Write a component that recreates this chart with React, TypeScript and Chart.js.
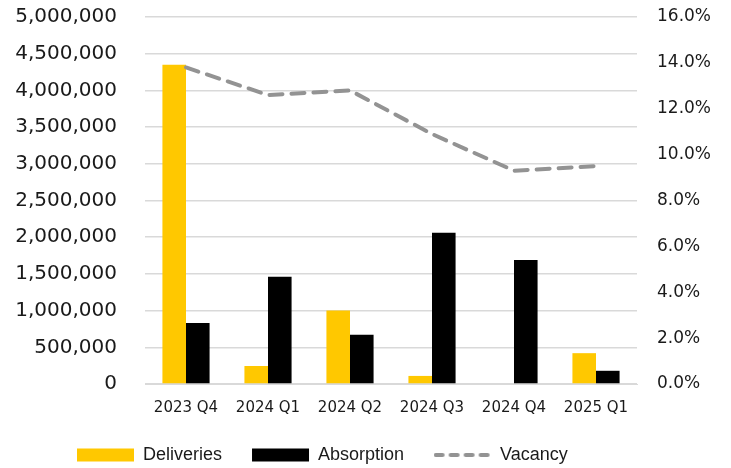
import React, { useEffect, useRef } from "react";
import { Chart, registerables } from "chart.js";

Chart.register(...registerables);

const categories = ["2023 Q4", "2024 Q1", "2024 Q2", "2024 Q3", "2024 Q4", "2025 Q1"];
const deliveries = [4350000, 245000, 1000000, 110000, 0, 420000];
const absorption = [830000, 1460000, 670000, 2060000, 1690000, 180000];
const vacancy = [13.8, 12.6, 12.8, 10.9, 9.3, 9.5];

const leftTicks = { min: 0, max: 5000000, step: 500000 };
const rightTicks = { min: 0, max: 16, step: 2 };

const VAC_COLOR = "#939393";

function makeDashIcon(): HTMLCanvasElement {
  const c = document.createElement("canvas");
  c.width = 58;
  c.height = 8;
  const ctx = c.getContext("2d")!;
  ctx.strokeStyle = VAC_COLOR;
  ctx.lineWidth = 4;
  ctx.lineCap = "round";
  ctx.setLineDash([7, 8]);
  ctx.beginPath();
  ctx.moveTo(2, 4);
  ctx.lineTo(56, 4);
  ctx.stroke();
  return c;
}

const layoutPlugin = {
  id: "layoutTweaks",
  beforeLayout(chart: any) {
    const lg = chart.legend;
    if (lg && !lg.__patched) {
      const fit = lg.fit;
      lg.fit = function () {
        fit.call(this);
        this.height = 52;
      };
      lg.__patched = true;
    }
  },
  afterLayout(chart: any) {
    if (chart.legend) chart.legend.left = 47;
  },
};

export default function App() {
  const ref = useRef<HTMLCanvasElement | null>(null);
  useEffect(() => {
    if (!ref.current) return;
    const dashIcon = makeDashIcon();
    const chart = new Chart(ref.current, {
      type: "bar",
      data: {
        labels: categories,
        datasets: [
          {
            label: "Deliveries",
            data: deliveries,
            backgroundColor: "#FFC800",
            borderWidth: 0,
            yAxisID: "y",
            order: 1,
          },
          {
            label: "Absorption",
            data: absorption,
            backgroundColor: "#000000",
            borderWidth: 0,
            yAxisID: "y",
            order: 1,
          },
          {
            type: "line",
            label: "Vacancy",
            data: vacancy,
            borderColor: VAC_COLOR,
            backgroundColor: VAC_COLOR,
            borderWidth: 4,
            borderDash: [13, 9],
            borderCapStyle: "round",
            pointRadius: 0,
            tension: 0,
            yAxisID: "y1",
            order: 0,
          } as any,
        ],
      },
      options: {
        animation: false,
        responsive: false,
        maintainAspectRatio: false,
        layout: { padding: { top: 17, left: 0, right: 0, bottom: 0 } },
        datasets: {
          bar: { barPercentage: 1, categoryPercentage: 0.575 },
        },
        scales: {
          x: {
            grid: { display: false, drawTicks: false },
            border: { display: true, color: "#d9d9d9", width: 1 },
            ticks: {
              color: "#1a1a1a",
              font: { family: "DejaVu Sans", size: 15 },
              padding: 15,
              maxRotation: 0,
            },
            afterFit: (s: any) => {
              s.height = 32;
            },
          },
          y: {
            position: "left",
            min: leftTicks.min,
            max: leftTicks.max,
            grid: { color: "#d9d9d9", lineWidth: 1.5, drawTicks: false },
            border: { display: false },
            ticks: {
              stepSize: leftTicks.step,
              color: "#1a1a1a",
              font: { family: "DejaVu Sans", size: 20 },
              padding: 28,
              callback: (v: any) => Number(v).toLocaleString("en-US"),
            },
            afterFit: (s: any) => {
              s.width = 145;
              s.paddingTop = 12;
              s.paddingBottom = 12;
            },
          },
          y1: {
            position: "right",
            min: rightTicks.min,
            max: rightTicks.max,
            grid: { drawOnChartArea: false, drawTicks: false },
            border: { display: false },
            ticks: {
              stepSize: rightTicks.step,
              color: "#1a1a1a",
              font: { family: "DejaVu Sans", size: 17 },
              padding: 20,
              callback: (v: any) => Number(v).toFixed(1) + "%",
            },
            afterFit: (s: any) => {
              s.width = 94;
              s.paddingTop = 10;
              s.paddingBottom = 10;
            },
          },
        },
        plugins: {
          tooltip: { enabled: false },
          legend: {
            position: "bottom",
            align: "start",
            labels: {
              usePointStyle: true,
              pointStyleWidth: 57,
              boxHeight: 13,
              padding: 30,
              color: "#1a1a1a",
              font: { family: "Liberation Sans", size: 18 },
              generateLabels: (c: any) =>
                (Chart.defaults.plugins.legend.labels.generateLabels as any)(c)
                  .sort((a: any, b: any) => a.datasetIndex - b.datasetIndex)
                  .map((l: any) => ({
                    ...l,
                    pointStyle: l.datasetIndex === 2 ? dashIcon : "rect",
                  })),
            },
          },
        },
      },
      plugins: [layoutPlugin],
    });
    return () => chart.destroy();
  }, []);

  return (
    <div style={{ position: "fixed", left: 0, top: 0, width: 731, height: 468, background: "#fff" }}>
      <canvas ref={ref} width={731} height={468} style={{ width: 731, height: 468 }} />
    </div>
  );
}
